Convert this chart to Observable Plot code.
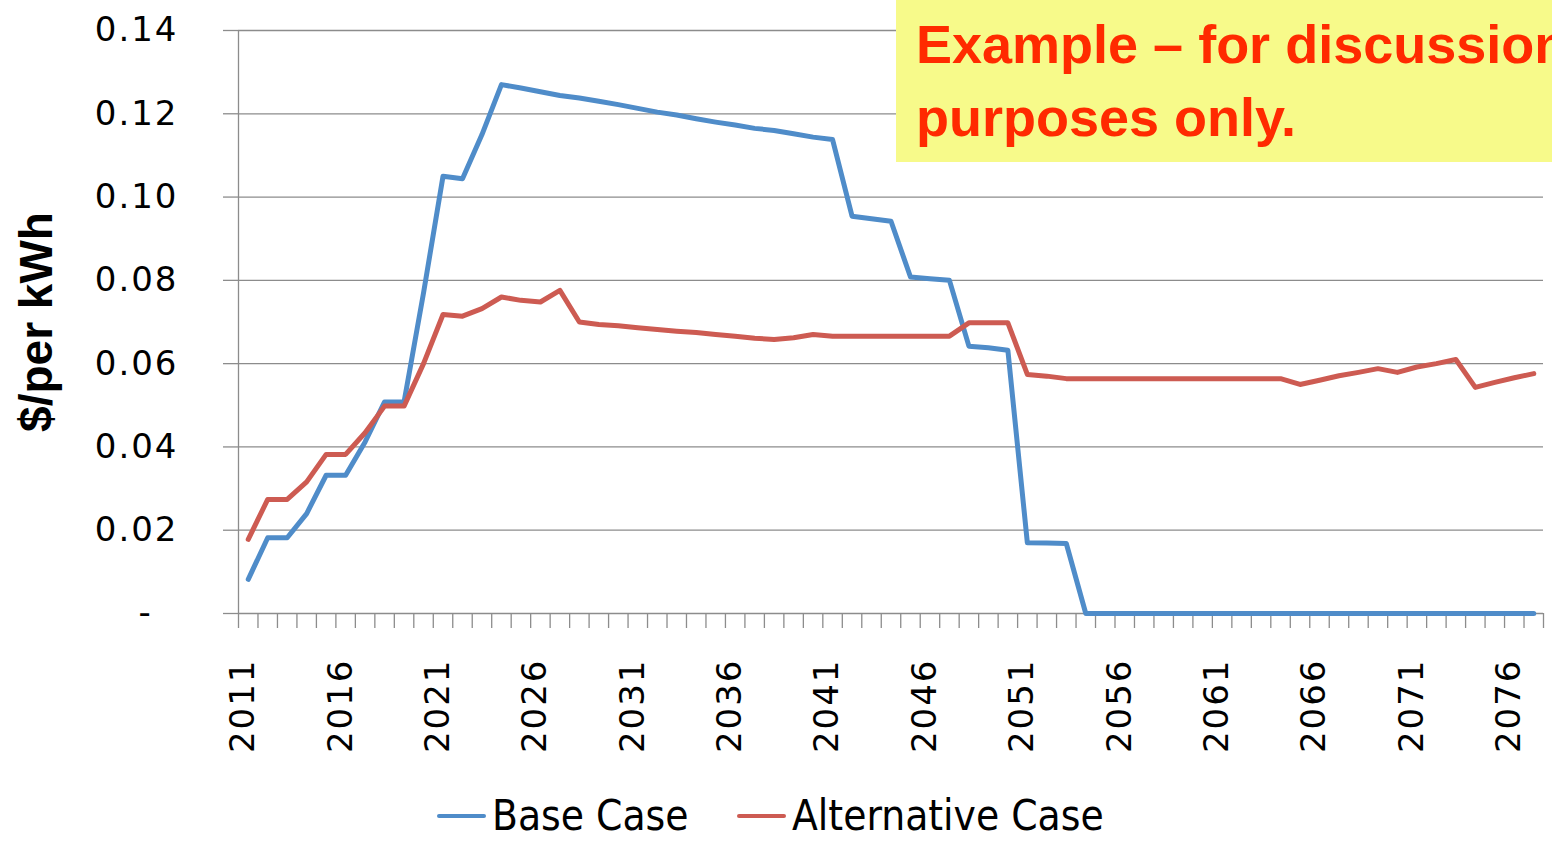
<!DOCTYPE html>
<html>
<head>
<meta charset="utf-8">
<script src="https://cdn.jsdelivr.net/npm/d3@7"></script>
<script src="https://cdn.jsdelivr.net/npm/@observablehq/plot@0.6"></script>
<style>
html, body { margin: 0; padding: 0; background: #fff; width: 1552px; height: 841px; overflow: hidden; }
#wrap { position: relative; width: 1552px; height: 841px; }
#chart svg { display: block; }
#note { position: absolute; left: 896px; top: 0; width: 656px; height: 162px; background: #f7fa8a;
  overflow: hidden; white-space: nowrap; font-family: "Liberation Sans", Arial, sans-serif; font-weight: bold;
  font-size: 54px; line-height: 73px; color: #ff2a00; padding-left: 20px; padding-top: 8px; box-sizing: border-box; }
.lg { position: absolute; top: 791px; height: 49px; line-height: 49px; display: flex; align-items: center;
  font-family: "Liberation Sans Narrow", "DejaVu Sans Condensed", sans-serif; font-size: 42px; color: #000; white-space: nowrap; }
.sw { width: 49px; height: 4px; margin-right: 6px; border-radius: 2px; flex: none; }
g[aria-label="y-axis tick label"] text, g[aria-label="x-axis tick label"] text { letter-spacing: 2px; }
</style>
</head>
<body>
<div id="wrap">
  <div id="chart"></div>
  <div id="note">Example – for discussion<br>purposes only.</div>
  <div class="lg" style="left:437px;width:280px"><div class="sw" style="background:#4f8cc9"></div><span>Base Case</span></div>
  <div class="lg" style="left:737px;width:400px"><div class="sw" style="background:#cd5b52"></div><span>Alternative Case</span></div>
</div>
<script>
const years = [2011,2012,2013,2014,2015,2016,2017,2018,2019,2020,
  2021,2022,2023,2024,2025,2026,2027,2028,2029,2030,
  2031,2032,2033,2034,2035,2036,2037,2038,2039,2040,
  2041,2042,2043,2044,2045,2046,2047,2048,2049,2050,
  2051,2052,2053,2054,2055,2056,2057,2058,2059,2060,
  2061,2062,2063,2064,2065,2066,2067,2068,2069,2070,
  2071,2072,2073,2074,2075,2076,2077];

const baseCase = [0.0082,0.0182,0.0182,0.0240,0.0332,0.0332,0.0412,0.0508,0.0508,0.0770,
  0.1050,0.1044,0.1150,0.1270,0.1262,0.1253,0.1244,0.1238,0.1230,0.1222,
  0.1213,0.1204,0.1197,0.1188,0.1180,0.1173,0.1165,0.1160,0.1152,0.1144,
  0.1138,0.0954,0.0948,0.0942,0.0808,0.0804,0.0800,0.0642,0.0638,0.0632,
  0.0170,0.0169,0.0168,0,0,0,0,0,0,0,
  0,0,0,0,0,0,0,0,0,0,
  0,0,0,0,0,0,0];

const alternativeCase = [0.0178,0.0274,0.0274,0.0316,0.0382,0.0382,0.0434,0.0498,0.0498,0.0600,
  0.0718,0.0714,0.0732,0.0760,0.0752,0.0748,0.0776,0.0700,0.0694,0.0691,
  0.0686,0.0682,0.0678,0.0675,0.0670,0.0666,0.0661,0.0658,0.0662,0.0670,
  0.0666,0.0666,0.0666,0.0666,0.0666,0.0666,0.0666,0.0698,0.0698,0.0698,
  0.0574,0.0570,0.0564,0.0564,0.0564,0.0564,0.0564,0.0564,0.0564,0.0564,
  0.0564,0.0564,0.0564,0.0564,0.0550,0.0560,0.0571,0.0579,0.0588,0.0579,
  0.0592,0.0600,0.0610,0.0543,0.0555,0.0566,0.0576];

const seriesNames = ["Base Case", "Alternative Case"];
const seriesColors = ["#4f8cc9", "#cd5b52"];
const yTicks = [0, 0.02, 0.04, 0.06, 0.08, 0.10, 0.12, 0.14];
const xLabelYears = [2011,2016,2021,2026,2031,2036,2041,2046,2051,2056,2061,2066,2071,2076];
const yTitle = "$/per kWh";

const table = [
  ...years.map((yr, i) => ({year: yr, value: baseCase[i], series: seriesNames[0]})),
  ...years.map((yr, i) => ({year: yr, value: alternativeCase[i], series: seriesNames[1]}))
];
const boundaries = years.map(y => y - 0.5).concat([years[years.length - 1] + 0.5]);
const gridColor = "#8c8c8c";

const chart = Plot.plot({
  width: 1552,
  height: 780,
  marginLeft: 238,
  marginRight: 9,
  marginTop: 30,
  marginBottom: 167,
  style: {background: "transparent", overflow: "visible"},
  x: {domain: [years[0] - 0.5, years[years.length - 1] + 0.5]},
  y: {domain: [0, 0.14]},
  color: {domain: seriesNames, range: seriesColors},
  marks: [
    Plot.ruleY(yTicks, {stroke: gridColor, strokeWidth: 1.3}),
    Plot.ruleX([boundaries[0]], {stroke: gridColor, strokeWidth: 1.3}),
    Plot.axisY({ticks: yTicks, tickSize: 15, tickPadding: 45, stroke: gridColor, strokeWidth: 1.3,
      tickFormat: d => d === 0 ? "-\u00a0\u00a0" : d.toFixed(2),
      fontSize: 34, fontFamily: "DejaVu Sans", label: null}),
    Plot.axisX(boundaries, {tickSize: 15, stroke: gridColor, strokeWidth: 1.3, tickFormat: () => "", label: null}),
    Plot.axisX(xLabelYears, {tickSize: 0, tickPadding: 45, tickRotate: -90, fontSize: 34, dx: -5,
      fontFamily: "DejaVu Sans", tickFormat: d => String(d), label: null}),
    Plot.text([yTitle], {text: d => d, frameAnchor: "left", dx: -201, rotate: -90, lineAnchor: "middle",
      textAnchor: "middle", fontSize: 46, fontWeight: "bold", fontFamily: "Liberation Sans, Arial, sans-serif"}),
    Plot.line(table, {x: "year", y: "value", z: "series", stroke: "series", strokeWidth: 5,
      strokeLinejoin: "round", strokeLinecap: "round"})
  ]
});
document.getElementById("chart").appendChild(chart);
</script>
</body>
</html>
